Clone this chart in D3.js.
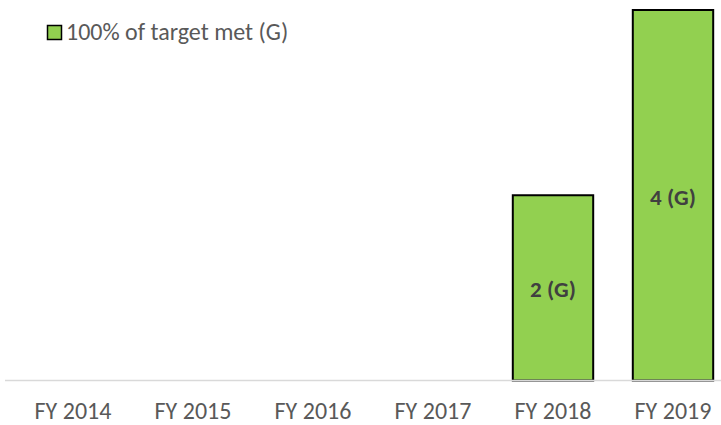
<!DOCTYPE html>
<html>
<head>
<meta charset="utf-8">
<script src="https://cdn.jsdelivr.net/npm/d3@7/dist/d3.min.js"></script>
<style>
  html, body { margin: 0; padding: 0; background: #fff; }
  svg { display: block; font-family: Carlito, Lato, "Open Sans", sans-serif; }
</style>
</head>
<body>
<svg id="chart" width="721" height="425"></svg>
<script>
const categories = ["FY 2014", "FY 2015", "FY 2016", "FY 2017", "FY 2018", "FY 2019"];
const values = [0, 0, 0, 0, 2, 4];
const barLabels = ["", "", "", "", "2 (G)", "4 (G)"];
const seriesName = "100% of target met (G)";
const yDomain = [0, 4];

const svg = d3.select("#chart");
const x = d3.scaleBand().domain(categories).range([13, 733]).paddingInner(0.33).paddingOuter(0.165);
const y = d3.scaleLinear().domain(yDomain).range([380.5, 10]);

const data = categories.map((c, i) => ({ c, v: values[i], label: barLabels[i] }));

// bars
svg.selectAll("rect.bar").data(data.filter(d => d.v > 0)).join("rect")
  .attr("class", "bar")
  .attr("x", d => x(d.c))
  .attr("y", d => y(d.v))
  .attr("width", x.bandwidth())
  .attr("height", d => y(0) - y(d.v))
  .attr("fill", "#92d050")
  .attr("stroke", "#000")
  .attr("stroke-width", 2);

// axis baseline
svg.append("line")
  .attr("x1", 5).attr("x2", 721)
  .attr("y1", y(0)).attr("y2", y(0))
  .attr("stroke", "#d9d9d9").attr("stroke-width", 1.5);

// category labels via axis
const xAxis = d3.axisBottom(x).tickSize(0).tickPadding(0);
const gx = svg.append("g").attr("transform", `translate(0,${y(0)})`).call(xAxis);
gx.select(".domain").remove();
gx.selectAll("text")
  .attr("y", 38.5)
  .attr("dy", 0)
  .attr("font-size", 24)
  .attr("font-family", "Carlito, Lato, sans-serif")
  .attr("fill", "#595959");

// bar value labels
svg.selectAll("text.val").data(data.filter(d => d.v > 0)).join("text")
  .attr("class", "val")
  .attr("x", d => x(d.c) + x.bandwidth() / 2)
  .attr("y", d => (y(d.v) + y(0)) / 2 + 9.5)
  .attr("text-anchor", "middle")
  .attr("font-size", 23)
  .attr("font-weight", "bold")
  .attr("fill", "#404040")
  .text(d => d.label);

// legend
const lg = svg.append("g");
lg.append("rect")
  .attr("x", 47.5).attr("y", 25.5).attr("width", 14).attr("height", 14)
  .attr("fill", "#92d050").attr("stroke", "#000").attr("stroke-width", 1.5);
lg.append("text")
  .attr("x", 66).attr("y", 39.5)
  .attr("font-size", 24)
  .attr("fill", "#595959")
  .text(seriesName);
</script>
</body>
</html>
